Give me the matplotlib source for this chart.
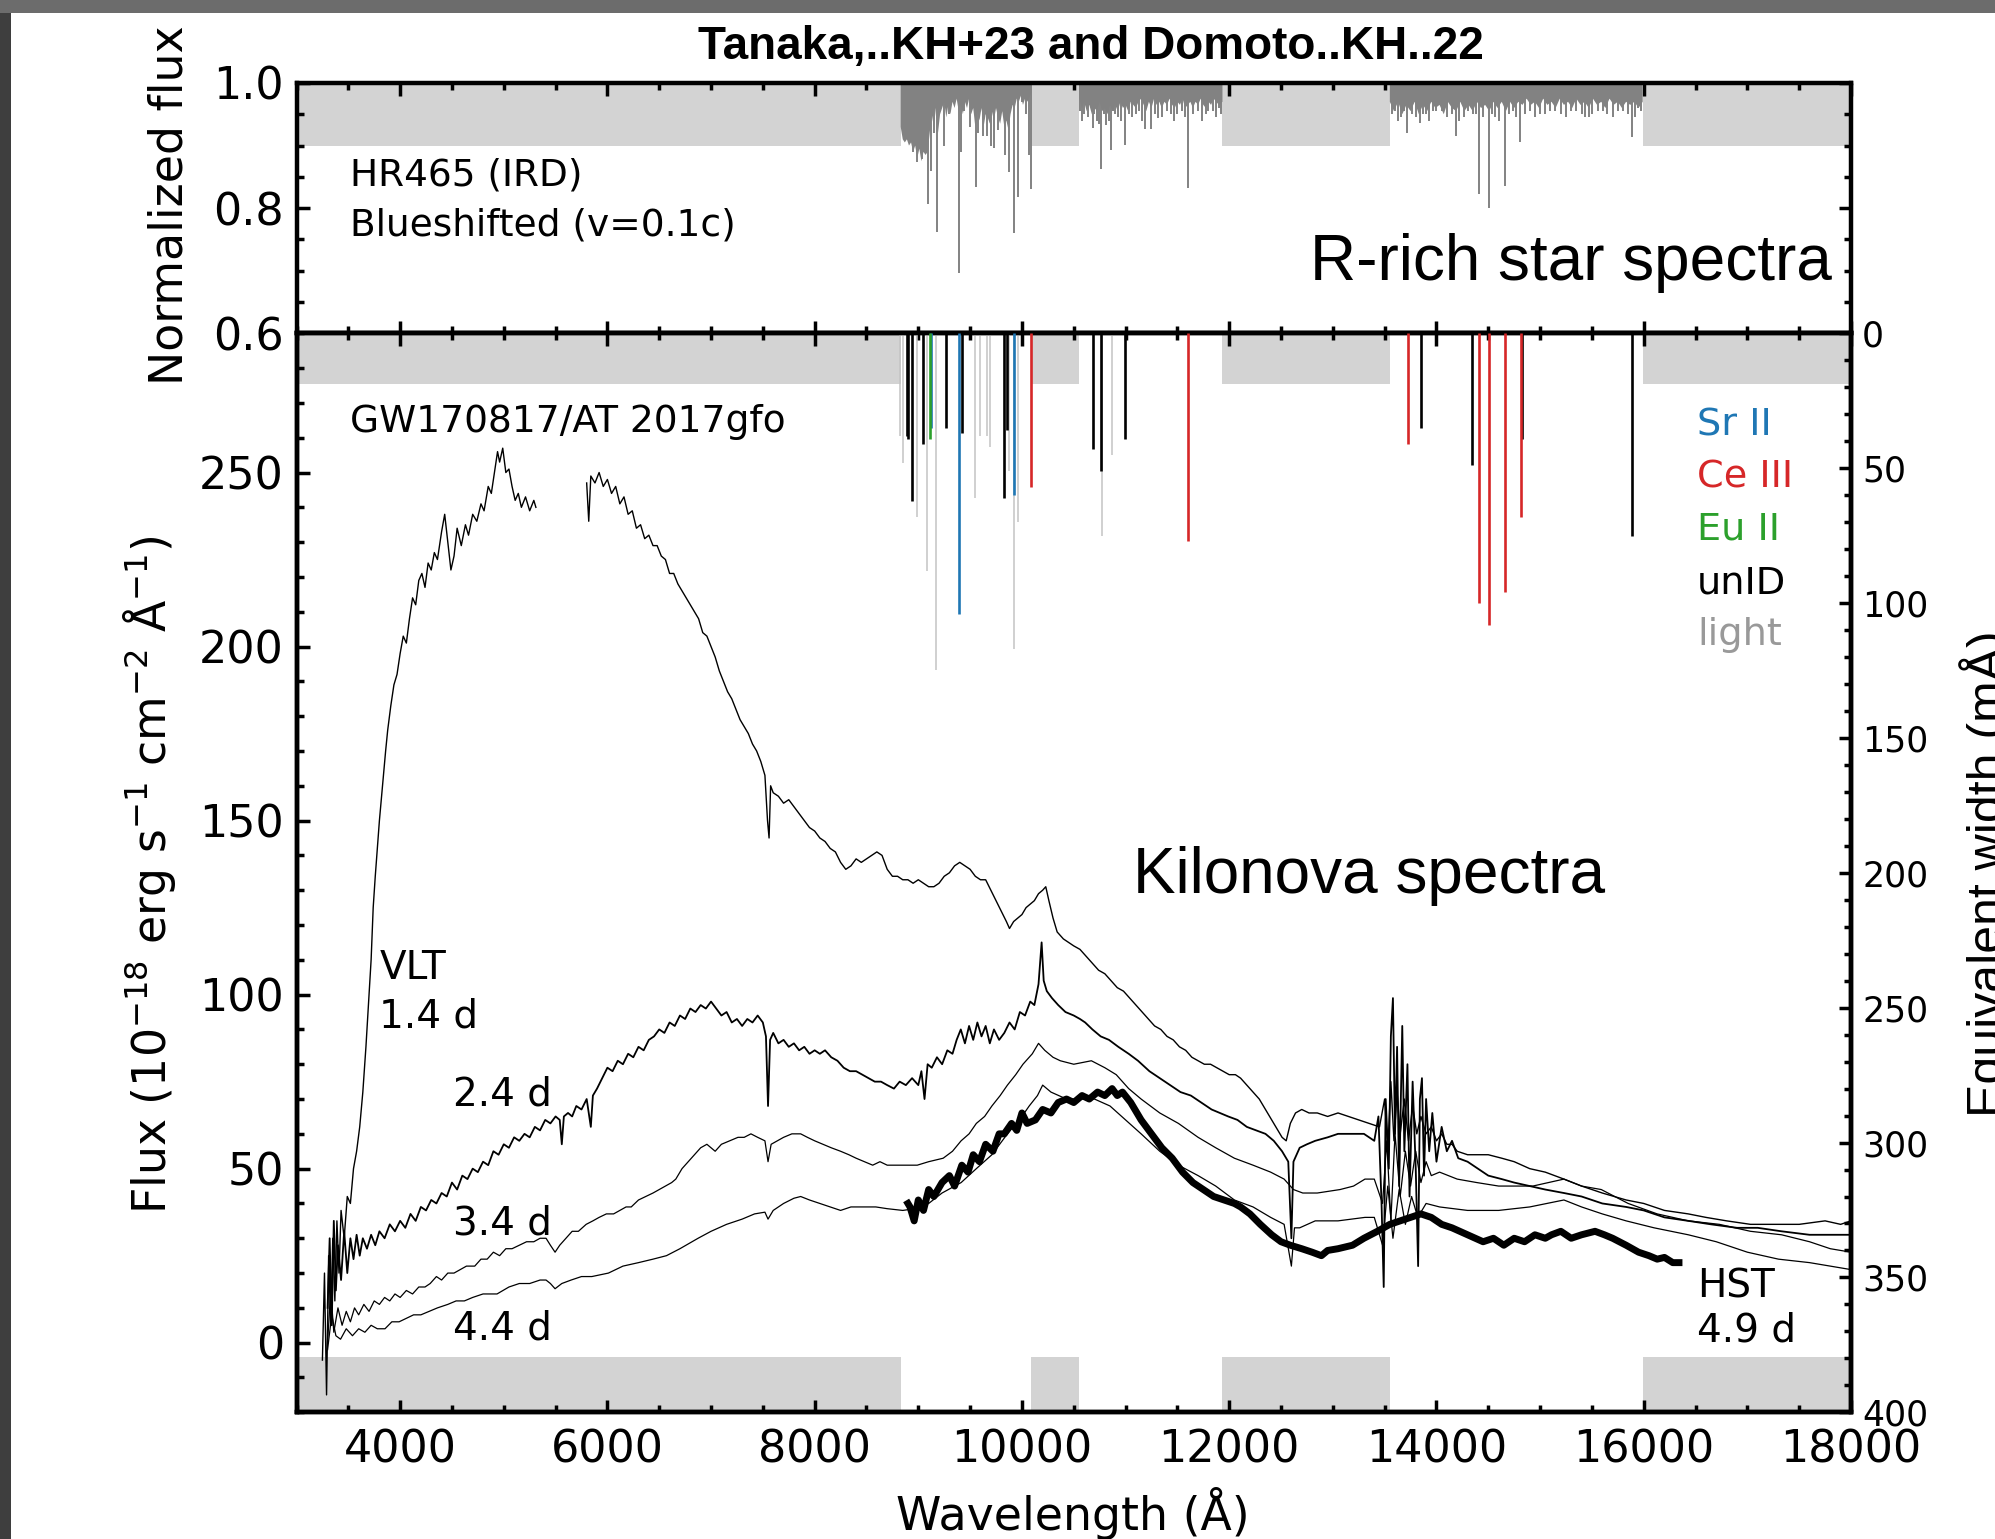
import numpy as np
import matplotlib
matplotlib.use('Agg')
import matplotlib.pyplot as plt
from matplotlib.patches import Rectangle
from matplotlib.ticker import MultipleLocator, FixedLocator

nan = np.nan

# ---------------- data ----------------
# masked wavelength ranges (light grey bands)
band_lo = [3000, 10090, 11935, 15990]
band_hi = [8830, 10553, 13550, 18000]

# R-rich star (HR465) dense absorption envelope: (wavelength, normalized flux)
star_env = [
    (8830, 0.93), (8850, 0.91), (8870, 0.905), (8890, 0.91), (8910, 0.90), (8930, 0.905),
    (8950, 0.89), (8970, 0.90), (8990, 0.88), (9010, 0.895), (9030, 0.875), (9050, 0.89),
    (9070, 0.885), (9090, 0.89), (9110, 0.92), (9130, 0.95), (9150, 0.93), (9170, 0.96),
    (9190, 0.92), (9210, 0.95), (9230, 0.96), (9250, 0.97), (9270, 0.945), (9290, 0.965),
    (9310, 0.95), (9330, 0.97), (9350, 0.96), (9370, 0.975), (9390, 0.955), (9410, 0.965),
    (9430, 0.95), (9450, 0.97), (9470, 0.96), (9490, 0.975), (9510, 0.95), (9530, 0.96),
    (9550, 0.93), (9570, 0.955), (9590, 0.94), (9610, 0.96), (9630, 0.93), (9650, 0.95),
    (9670, 0.945), (9690, 0.935), (9710, 0.955), (9730, 0.94), (9750, 0.96), (9770, 0.945),
    (9790, 0.935), (9810, 0.955), (9830, 0.93), (9850, 0.94), (9870, 0.925), (9890, 0.95),
    (9910, 0.965), (9930, 0.96), (9950, 0.975), (9970, 0.97), (9990, 0.98), (10010, 0.965),
    (10030, 0.975), (10050, 0.97), (10070, 0.975), (10090, 0.985),
    (10091, nan),
    (10553, 0.975), (10580, 0.96), (10600, 0.97), (10625, 0.955), (10650, 0.965), (10675, 0.95),
    (10700, 0.96), (10725, 0.955), (10750, 0.97), (10775, 0.955), (10800, 0.96), (10825, 0.95),
    (10850, 0.965), (10875, 0.955), (10900, 0.965), (10925, 0.955), (10950, 0.97), (10975, 0.96),
    (11000, 0.965), (11025, 0.955), (11050, 0.97), (11075, 0.965), (11100, 0.96), (11125, 0.97),
    (11150, 0.975), (11175, 0.965), (11200, 0.955), (11225, 0.97), (11250, 0.96), (11275, 0.975),
    (11300, 0.965), (11325, 0.97), (11350, 0.96), (11375, 0.97), (11400, 0.965), (11425, 0.975),
    (11450, 0.965), (11475, 0.96), (11500, 0.97), (11525, 0.965), (11550, 0.975), (11575, 0.96),
    (11600, 0.965), (11625, 0.97), (11650, 0.96), (11675, 0.97), (11700, 0.965), (11725, 0.975),
    (11750, 0.965), (11775, 0.96), (11800, 0.97), (11825, 0.965), (11850, 0.975), (11875, 0.97),
    (11900, 0.965), (11935, 0.97),
    (11936, nan),
    (13550, 0.97), (13590, 0.955), (13630, 0.97), (13670, 0.95), (13710, 0.965), (13750, 0.955),
    (13790, 0.97), (13830, 0.95), (13870, 0.965), (13910, 0.955), (13950, 0.97), (13990, 0.96),
    (14030, 0.965), (14070, 0.95), (14110, 0.97), (14150, 0.96), (14190, 0.955), (14230, 0.97),
    (14270, 0.955), (14310, 0.965), (14350, 0.955), (14390, 0.97), (14430, 0.96), (14470, 0.965),
    (14510, 0.955), (14550, 0.97), (14590, 0.96), (14630, 0.97), (14670, 0.955), (14710, 0.97),
    (14750, 0.96), (14790, 0.97), (14830, 0.965), (14870, 0.975), (14910, 0.965), (14950, 0.97),
    (14990, 0.96), (15030, 0.975), (15070, 0.965), (15110, 0.97), (15150, 0.96), (15190, 0.975),
    (15230, 0.965), (15270, 0.97), (15310, 0.96), (15350, 0.975), (15390, 0.965), (15430, 0.97),
    (15470, 0.96), (15510, 0.975), (15550, 0.965), (15590, 0.97), (15630, 0.96), (15670, 0.975),
    (15710, 0.965), (15750, 0.97), (15790, 0.96), (15830, 0.97), (15870, 0.965), (15910, 0.97),
    (15950, 0.96), (15990, 0.97),
]
# individual stellar lines: (wavelength, normalized flux at line core)
star_lines = [
    (8952, 0.89), (8991, 0.874), (9033, 0.878), (9091, 0.807), (9120, 0.86), (9150, 0.92),
    (9178, 0.762), (9251, 0.90), (9300, 0.95), (9393, 0.696), (9412, 0.89), (9440, 0.955),
    (9500, 0.93), (9554, 0.834), (9580, 0.92), (9620, 0.915), (9660, 0.915), (9700, 0.90),
    (9734, 0.896), (9770, 0.925), (9837, 0.885), (9876, 0.857), (9927, 0.760), (9960, 0.818),
    (10000, 0.97), (10040, 0.95), (10072, 0.885), (10088, 0.831),
    (10560, 0.955), (10580, 0.94), (10600, 0.95), (10640, 0.945), (10682, 0.928), (10700, 0.95),
    (10720, 0.94), (10740, 0.935), (10762, 0.863), (10790, 0.95), (10809, 0.933), (10840, 0.94),
    (10863, 0.893), (10880, 0.955), (10900, 0.95), (10930, 0.945), (10960, 0.94), (10990, 0.901),
    (11030, 0.95), (11060, 0.945), (11100, 0.95), (11130, 0.955), (11160, 0.94), (11190, 0.926),
    (11245, 0.926), (11280, 0.95), (11317, 0.944), (11350, 0.945), (11400, 0.955), (11440, 0.95),
    (11470, 0.94), (11500, 0.95), (11540, 0.955), (11570, 0.945), (11600, 0.833), (11650, 0.95),
    (11700, 0.955), (11742, 0.94), (11780, 0.95), (11800, 0.955), (11840, 0.955), (11870, 0.945),
    (11898, 0.96), (11920, 0.95),
    (13570, 0.95), (13600, 0.955), (13630, 0.94), (13658, 0.946), (13690, 0.955), (13720, 0.92),
    (13760, 0.95), (13800, 0.945), (13840, 0.936), (13870, 0.95), (13900, 0.95), (13930, 0.94),
    (13967, 0.955), (14000, 0.955), (14050, 0.955), (14100, 0.945), (14150, 0.95), (14185, 0.915),
    (14220, 0.94), (14268, 0.945), (14300, 0.955), (14350, 0.95), (14380, 0.95), (14410, 0.822),
    (14450, 0.945), (14504, 0.801), (14540, 0.95), (14566, 0.946), (14600, 0.94), (14664, 0.835),
    (14700, 0.95), (14740, 0.955), (14770, 0.945), (14805, 0.906), (14850, 0.95), (14900, 0.955),
    (14950, 0.945), (15001, 0.95), (15050, 0.95), (15100, 0.955), (15147, 0.955), (15200, 0.95),
    (15250, 0.945), (15300, 0.955), (15350, 0.955), (15400, 0.95), (15437, 0.945), (15470, 0.945),
    (15500, 0.95), (15560, 0.955), (15611, 0.955), (15650, 0.95), (15700, 0.945), (15750, 0.955),
    (15800, 0.955), (15850, 0.95), (15883, 0.913), (15920, 0.945), (15945, 0.96), (15970, 0.955),
]

# equivalent widths of identified lines (wavelength [A], EW [mA])
sr2_wl = [9126, 9393, 9927]
sr2_ew = [35, 104, 60]
ce3_wl = [10085, 11598, 13726, 14410, 14508, 14664, 14812]
ce3_ew = [57, 77, 41, 100, 108, 96, 68]
eu2_wl = [9113]
eu2_ew = [39]
unid_wl = [8895, 8904, 8936, 9048, 9268, 9425, 9831, 9860, 10688, 10759, 10992, 13847, 14340, 14826, 15890]
unid_ew = [38, 39, 62, 41, 35, 37, 61, 36, 43, 51, 39, 35, 49, 39, 75]
light_wl = [8824, 8850, 8991, 9087, 9171, 9548, 9596, 9660, 9693, 9879, 9927, 9959, 10773, 10865]
light_ew = [38, 48, 68, 88, 125, 61, 38, 38, 42, 51, 117, 70, 75, 45]

# kilonova spectra: (wavelength [A], flux [1e-18 erg/s/cm2/A])
kn_14d = [
    (3250, -5), (3270, 20), (3290, -15), (3310, 25), (3330, 5), (3350, 30), (3370, 12), (3390, 35),
    (3410, 20), (3430, 38), (3460, 30), (3490, 42), (3520, 40), (3550, 50), (3580, 55), (3610, 62),
    (3640, 72), (3670, 85), (3700, 100), (3720, 110), (3740, 125), (3760, 134), (3780, 142),
    (3800, 150), (3830, 160), (3860, 170), (3880, 176), (3910, 183), (3940, 189), (3970, 192),
    (4000, 198), (4030, 203), (4060, 201), (4090, 208), (4120, 214), (4150, 212), (4180, 219),
    (4210, 221), (4240, 217), (4270, 224), (4300, 222), (4330, 227), (4360, 225), (4400, 233),
    (4430, 238), (4460, 230), (4490, 222), (4520, 226), (4550, 234), (4590, 229), (4630, 235),
    (4660, 232), (4700, 238), (4740, 236), (4780, 241), (4810, 239), (4850, 246), (4880, 244),
    (4910, 250), (4940, 256), (4960, 253), (4990, 257), (5020, 250), (5050, 251), (5080, 246),
    (5110, 242), (5140, 244), (5170, 240), (5210, 243), (5250, 239), (5290, 242), (5310, 240),
    (5500, nan),
    (5800, 247), (5820, 236), (5840, 249), (5880, 247), (5920, 250), (5960, 246), (6000, 248),
    (6040, 244), (6080, 246), (6120, 241), (6160, 243), (6200, 238), (6240, 239), (6280, 234),
    (6320, 235), (6360, 231), (6400, 232), (6440, 229), (6480, 229), (6520, 226), (6560, 225),
    (6600, 221), (6640, 221), (6680, 218), (6720, 216), (6760, 214), (6800, 212), (6840, 210),
    (6880, 208), (6920, 204), (6960, 203), (7000, 200), (7040, 197), (7080, 193), (7120, 190),
    (7160, 187), (7200, 185), (7240, 182), (7280, 179), (7320, 177), (7360, 175), (7400, 172),
    (7440, 170), (7480, 167), (7520, 163), (7545, 150), (7560, 145), (7575, 160), (7600, 158),
    (7650, 157), (7700, 155), (7750, 156), (7800, 154), (7850, 152), (7900, 150), (7950, 148),
    (8000, 147), (8050, 145), (8100, 144), (8150, 142), (8200, 141), (8250, 138), (8300, 136),
    (8350, 137), (8400, 139), (8450, 138), (8500, 139), (8550, 140), (8600, 141), (8650, 140),
    (8700, 136), (8750, 134), (8800, 134), (8850, 133), (8900, 133), (8950, 132), (9000, 133),
    (9050, 132), (9100, 131), (9150, 131), (9200, 132), (9250, 134), (9300, 135), (9350, 137),
    (9400, 138), (9450, 137), (9500, 136), (9550, 134), (9600, 133), (9650, 133), (9700, 130),
    (9750, 127), (9800, 124), (9850, 121), (9880, 119), (9920, 121), (9960, 122), (10000, 123),
    (10040, 125), (10080, 126), (10120, 127), (10160, 129), (10200, 130), (10230, 131),
    (10260, 127), (10300, 122), (10340, 118), (10400, 116), (10450, 115), (10500, 114),
    (10560, 113), (10620, 111), (10680, 109), (10740, 107), (10800, 106), (10860, 104),
    (10920, 102), (10980, 101), (11040, 99), (11100, 97), (11160, 95), (11220, 93), (11280, 91),
    (11340, 90), (11400, 88), (11460, 87), (11520, 85), (11580, 84), (11640, 82), (11700, 81),
    (11760, 80), (11820, 80), (11880, 79), (11940, 78), (12000, 77), (12060, 77), (12110, 76),
    (12170, 74), (12230, 72), (12290, 70), (12350, 67), (12410, 64), (12470, 61), (12510, 59),
    (12550, 58), (12590, 63), (12640, 66), (12700, 67), (12770, 66), (12850, 66), (12950, 65),
    (13050, 66), (13150, 65), (13250, 64), (13350, 63), (13450, 62), (13500, 70), (13530, 55),
    (13560, 75), (13590, 58), (13620, 72), (13650, 60), (13690, 70), (13730, 58), (13770, 68),
    (13810, 60), (13850, 65), (13900, 60), (13950, 62), (14000, 58), (14050, 60), (14100, 57),
    (14150, 57), (14200, 55), (14300, 54), (14400, 54), (14500, 54), (14630, 53), (14750, 52),
    (14900, 50), (15050, 49), (15230, 47), (15400, 45), (15600, 43), (15830, 41), (16000, 40),
    (16200, 38), (16430, 37), (16600, 36), (16800, 35), (17030, 34), (17250, 34), (17500, 34),
    (17750, 35), (17900, 34), (18000, 35),
]
kn_24d = [
    (3300, 10), (3320, 30), (3340, 5), (3360, 35), (3380, 15), (3400, 28), (3430, 18), (3460, 32),
    (3490, 20), (3520, 30), (3550, 24), (3580, 31), (3610, 25), (3640, 30), (3680, 27), (3720, 31),
    (3760, 28), (3800, 32), (3850, 30), (3900, 34), (3950, 32), (4000, 35), (4050, 33), (4100, 37),
    (4150, 35), (4200, 39), (4250, 38), (4300, 41), (4350, 40), (4400, 43), (4450, 42), (4500, 46),
    (4550, 44), (4600, 48), (4650, 47), (4700, 50), (4750, 49), (4800, 52), (4850, 51), (4900, 55),
    (4950, 54), (5000, 57), (5050, 56), (5100, 59), (5150, 58), (5200, 60), (5250, 59), (5300, 62),
    (5350, 61), (5400, 64), (5450, 63), (5500, 65), (5540, 64), (5560, 57), (5580, 65), (5620, 66),
    (5660, 65), (5700, 68), (5750, 67), (5800, 70), (5840, 62), (5860, 71), (5900, 73), (5950, 76),
    (6000, 79), (6050, 78), (6100, 81), (6150, 80), (6200, 83), (6250, 82), (6300, 85), (6350, 84),
    (6400, 87), (6450, 88), (6500, 90), (6550, 89), (6600, 92), (6650, 91), (6700, 94), (6750, 93),
    (6800, 96), (6850, 95), (6900, 97), (6950, 96), (7000, 98), (7050, 96), (7100, 94), (7150, 95),
    (7200, 92), (7250, 93), (7300, 91), (7350, 93), (7400, 92), (7450, 94), (7500, 92), (7530, 88),
    (7550, 68), (7570, 87), (7600, 89), (7650, 86), (7700, 87), (7750, 85), (7800, 86), (7850, 84),
    (7900, 85), (7950, 83), (8000, 84), (8050, 83), (8100, 84), (8160, 82), (8220, 81), (8280, 79),
    (8340, 78), (8400, 78), (8460, 77), (8520, 76), (8580, 75), (8640, 75), (8700, 74), (8765, 73),
    (8820, 75), (8880, 74), (8940, 76), (9000, 74), (9030, 78), (9060, 70), (9090, 80), (9130, 79),
    (9180, 82), (9230, 80), (9280, 84), (9330, 83), (9370, 87), (9410, 90), (9450, 86), (9490, 91),
    (9530, 87), (9570, 92), (9610, 88), (9650, 91), (9690, 86), (9730, 90), (9780, 87), (9830, 89),
    (9880, 92), (9930, 90), (9980, 95), (10030, 94), (10080, 98), (10120, 97), (10160, 103),
    (10190, 115), (10210, 104), (10240, 101), (10290, 99), (10350, 97), (10420, 95), (10500, 94),
    (10560, 93), (10610, 92), (10680, 90), (10760, 88), (10840, 87), (10930, 85), (11030, 83),
    (11120, 81), (11230, 78), (11330, 76), (11430, 74), (11530, 72), (11630, 71), (11730, 69),
    (11830, 67), (11910, 66), (11990, 65), (12080, 64), (12170, 62), (12260, 61), (12350, 60),
    (12430, 58), (12510, 55), (12570, 52), (12600, 30), (12620, 52), (12680, 56), (12750, 57),
    (12830, 58), (12950, 59), (13050, 60), (13190, 60), (13300, 60), (13400, 58), (13440, 65),
    (13470, 40), (13491, 16), (13510, 70), (13540, 50), (13560, 88), (13580, 99), (13600, 60),
    (13620, 85), (13640, 45), (13670, 91), (13690, 55), (13720, 80), (13740, 42), (13770, 75),
    (13800, 50), (13823, 22), (13840, 70), (13860, 76), (13880, 48), (13900, 70), (13930, 55),
    (13960, 66), (14000, 52), (14050, 62), (14100, 55), (14150, 58), (14210, 53), (14300, 52),
    (14400, 50), (14500, 48), (14630, 47), (14750, 46), (14900, 45), (15050, 44), (15230, 43),
    (15400, 42), (15600, 40), (15830, 39), (16000, 38), (16200, 36), (16430, 35), (16650, 34),
    (16900, 33), (17100, 33), (17330, 32), (17600, 31), (17800, 31), (18000, 31),
]
kn_34d = [
    (3300, 0), (3330, 15), (3360, 3), (3400, 10), (3440, 5), (3480, 9), (3520, 6), (3560, 10),
    (3600, 8), (3650, 11), (3700, 9), (3750, 12), (3800, 11), (3850, 13), (3900, 12), (3950, 14),
    (4000, 13), (4060, 15), (4120, 14), (4180, 16), (4240, 16), (4290, 17), (4350, 19), (4400, 18),
    (4460, 20), (4520, 20), (4580, 21), (4640, 22), (4720, 22), (4780, 24), (4840, 24), (4900, 26),
    (4960, 25), (5020, 27), (5080, 27), (5150, 28), (5220, 29), (5290, 29), (5350, 30), (5408, 30),
    (5450, 28), (5495, 26), (5540, 28), (5600, 30), (5660, 32), (5720, 32), (5795, 34), (5860, 35),
    (5920, 36), (5990, 37), (6060, 37), (6120, 38), (6180, 39), (6230, 39), (6300, 41), (6370, 42),
    (6440, 43), (6500, 44), (6560, 45), (6620, 46), (6660, 47), (6720, 50), (6780, 52), (6840, 54),
    (6900, 56), (6960, 57), (7000, 56), (7040, 55), (7100, 57), (7180, 58), (7260, 59), (7320, 59),
    (7385, 60), (7450, 59), (7520, 58), (7550, 52), (7580, 57), (7640, 58), (7700, 59), (7780, 60),
    (7865, 60), (7930, 59), (8000, 58), (8080, 57), (8160, 56), (8250, 55), (8330, 54), (8400, 53),
    (8480, 52), (8560, 51), (8630, 52), (8700, 51), (8780, 51), (8850, 51), (8990, 51), (9100, 52),
    (9240, 53), (9330, 55), (9413, 58), (9490, 60), (9560, 63), (9640, 65), (9710, 68), (9790, 71),
    (9860, 74), (9940, 77), (10010, 80), (10100, 83), (10160, 86), (10220, 84), (10300, 82),
    (10370, 81), (10500, 80), (10670, 81), (10800, 79), (10910, 77), (11030, 73), (11150, 70),
    (11330, 66), (11510, 63), (11700, 59), (11870, 56), (12050, 53), (12230, 51), (12400, 49),
    (12530, 47), (12620, 44), (12710, 43), (12850, 43), (13070, 44), (13200, 45), (13310, 47),
    (13400, 47), (13480, 40), (13520, 58), (13560, 35), (13600, 60), (13650, 42), (13700, 55),
    (13750, 45), (13800, 55), (13850, 46), (13900, 52), (13950, 48), (14030, 49), (14200, 47),
    (14390, 46), (14600, 45), (14930, 45), (15230, 47), (15400, 45), (15590, 44), (15850, 40),
    (16130, 37), (16430, 35), (16730, 34), (17030, 32), (17330, 31), (17600, 29), (17800, 27),
    (18000, 26),
]
kn_44d = [
    (3300, -2), (3340, 8), (3380, 2), (3425, 1), (3480, 4), (3540, 2), (3600, 4), (3660, 3),
    (3720, 5), (3780, 4), (3854, 4), (3920, 6), (3990, 6), (4060, 7), (4130, 8), (4200, 8),
    (4280, 9), (4360, 10), (4460, 11), (4540, 12), (4620, 12), (4700, 13), (4800, 14), (4935, 14),
    (5050, 16), (5150, 17), (5250, 17), (5350, 18), (5408, 18), (5450, 17), (5495, 15.5),
    (5560, 17), (5650, 18), (5750, 19), (5850, 19), (6010, 20), (6150, 22), (6300, 23), (6440, 24),
    (6570, 25), (6700, 27), (6875, 30), (7000, 32), (7150, 34), (7300, 35.5), (7420, 37),
    (7520, 37.5), (7550, 35.5), (7600, 38), (7700, 40), (7800, 41.5), (7865, 42), (7950, 41),
    (8050, 40), (8150, 39), (8250, 38), (8350, 39), (8450, 39), (8590, 39), (8700, 38.5),
    (8850, 38), (8990, 38.6), (9100, 40), (9229, 43), (9413, 46), (9560, 50), (9710, 54),
    (9860, 60), (10000, 65), (10070, 68), (10150, 71), (10200, 74), (10280, 72), (10430, 70),
    (10550, 70), (10700, 70), (10850, 68), (11000, 64), (11150, 60), (11330, 55), (11510, 51),
    (11700, 48), (11870, 45), (12050, 41), (12230, 39), (12400, 36), (12530, 34), (12600, 22),
    (12630, 33), (12680, 33), (12830, 35), (13050, 35), (13310, 36), (13400, 36), (13480, 28),
    (13530, 45), (13580, 30), (13640, 44), (13700, 34), (13760, 42), (13820, 36), (13900, 40),
    (14030, 39), (14300, 38), (14600, 38), (14900, 39), (15230, 41), (15400, 39), (15600, 37),
    (15830, 35), (16100, 33), (16430, 31), (16700, 29), (17000, 26), (17300, 24), (17600, 23),
    (17800, 22), (18000, 21),
]
kn_hst = [
    (8900, 40), (8920, 39), (8960, 35), (9000, 41), (9050, 38), (9100, 44), (9150, 42), (9229, 46),
    (9300, 48), (9350, 45), (9420, 51), (9480, 49), (9530, 54), (9590, 52), (9650, 57), (9720, 55),
    (9780, 60), (9830, 60), (9900, 63), (9950, 61), (10000, 66), (10050, 63), (10130, 64),
    (10200, 67), (10280, 66), (10350, 69), (10430, 70), (10500, 69), (10580, 71), (10650, 70),
    (10730, 72), (10800, 71), (10870, 73), (10920, 71), (10970, 72), (11050, 69), (11150, 64),
    (11250, 60), (11350, 56), (11450, 53), (11550, 49), (11650, 46), (11750, 44), (11850, 42),
    (11950, 41), (12050, 40), (12110, 39), (12200, 37), (12300, 34), (12410, 31), (12500, 29),
    (12590, 28), (12700, 27), (12800, 26), (12890, 25), (12950, 26.5), (13050, 27), (13190, 28),
    (13300, 30), (13430, 32), (13550, 34), (13650, 35), (13750, 36), (13850, 37), (13950, 36),
    (14050, 34), (14150, 33), (14300, 31), (14450, 29), (14550, 30), (14650, 28), (14750, 30),
    (14850, 29), (14950, 31), (15050, 30), (15110, 31), (15200, 32), (15300, 30), (15400, 31),
    (15530, 32), (15620, 31), (15700, 30), (15830, 28), (15950, 26), (16050, 25), (16130, 24),
    (16200, 24.5), (16280, 23), (16340, 23),
]

x_ticks = [4000, 6000, 8000, 10000, 12000, 14000, 16000, 18000]
flux_ticks = [0, 50, 100, 150, 200, 250]
ew_ticks = [0, 50, 100, 150, 200, 250, 300, 350, 400]
norm_ticks = [0.6, 0.8, 1.0]

# ---------------- figure ----------------
W, H = 1995, 1539
fig = plt.figure(figsize=(W / 100, H / 100), dpi=100)
fig.patch.set_facecolor('#3e3e3e')
fig.add_artist(Rectangle((0, 1 - 13 / H), 1, 13 / H, transform=fig.transFigure,
                         facecolor='#6c6c6c', edgecolor='none', zorder=-2))
fig.add_artist(Rectangle((11 / W, 0), 1, 1 - 13 / H, transform=fig.transFigure,
                         facecolor='white', edgecolor='none', zorder=-1))

L, R = 296.5 / W, 1851 / W
ytop, ymid, ybot = 83, 333.3, 1412.3
axt = fig.add_axes([L, 1 - ymid / H, R - L, (ymid - ytop) / H])
axb = fig.add_axes([L, 1 - ybot / H, R - L, (ybot - ymid) / H])
ax2 = axb.twinx()

LIGHT = '#d3d3d3'
SPEC = '#828282'

for ax in (axt, axb, ax2):
    ax.set_xlim(3000, 18000)
    for s in ax.spines.values():
        s.set_linewidth(3.2)
    ax.xaxis.set_major_locator(FixedLocator(x_ticks))
    ax.xaxis.set_minor_locator(MultipleLocator(500))

# --- top panel ---
axt.set_ylim(0.6, 1.0)
for lo, hi in zip(band_lo, band_hi):
    axt.fill_between([lo, hi], 0.9, 1.0, color=LIGHT, lw=0, zorder=1)
env_wl = [p[0] for p in star_env]
env_fl = [p[1] for p in star_env]
axt.fill_between(env_wl, env_fl, 1.0, color=SPEC, lw=0, zorder=2)
axt.vlines([p[0] for p in star_lines], [p[1] for p in star_lines], 1.0, color=SPEC, lw=1.4, zorder=2)
axt.yaxis.set_major_locator(FixedLocator(norm_ticks))
axt.yaxis.set_minor_locator(MultipleLocator(0.05))
axt.set_yticklabels(['0.6', '0.8', '1.0'])
axt.tick_params(which='both', direction='in', top=True, right=True, bottom=True, left=True,
                labelbottom=False, width=2.5, labelsize=32, pad=9)
axt.tick_params(which='major', length=9)
axt.tick_params(which='minor', length=5)
axt.text(3517, 0.852, 'HR465 (IRD)', fontsize=27, ha='left', va='center')
axt.text(3517, 0.773, 'Blueshifted (v=0.1c)', fontsize=27, ha='left', va='center')
axt.text(17817, 0.712, 'R-rich star spectra', fontsize=46, ha='right', va='center',
         family=['Liberation Sans', 'DejaVu Sans'])

# --- bottom panel ---
axb.set_ylim(-20, 290)
for lo, hi in zip(band_lo, band_hi):
    axb.fill_between([lo, hi], -20, -4, color=LIGHT, lw=0, zorder=1)
    axb.fill_between([lo, hi], 275.5, 290, color=LIGHT, lw=0, zorder=1)
for spec, lw in ((kn_14d, 1.0), (kn_24d, 1.3), (kn_34d, 0.9), (kn_44d, 0.9), (kn_hst, 5.0)):
    axb.plot([p[0] for p in spec], [p[1] for p in spec], color='black', lw=lw, zorder=3,
             solid_joinstyle='round')
axb.yaxis.set_major_locator(FixedLocator(flux_ticks))
axb.yaxis.set_minor_locator(MultipleLocator(10))
axb.tick_params(which='both', direction='in', top=True, bottom=True, left=True, right=False,
                width=2.5, labelsize=32, pad=9)
axb.tick_params(which='major', length=9)
axb.tick_params(which='minor', length=5)
axb.tick_params(axis='x', pad=12)

ax2.set_ylim(400, 0)
ax2.yaxis.set_major_locator(FixedLocator(ew_ticks))
ax2.yaxis.set_minor_locator(MultipleLocator(10))
ax2.tick_params(which='both', direction='in', right=True, left=False, top=False, bottom=False,
                labelbottom=False, width=2.5, labelsize=25, pad=8)
ax2.tick_params(which='major', length=9)
ax2.tick_params(which='minor', length=5)
ax2.vlines(light_wl, 0, light_ew, color='#c4c4c4', lw=1.1, zorder=2)
ax2.vlines(unid_wl, 0, unid_ew, color='black', lw=1.9, zorder=3)
ax2.vlines(sr2_wl, 0, sr2_ew, color='#1f77b4', lw=1.9, zorder=3)
ax2.vlines(ce3_wl, 0, ce3_ew, color='#d62728', lw=1.9, zorder=3)
ax2.vlines(eu2_wl, 0, eu2_ew, color='#2ca02c', lw=1.9, zorder=3)

# annotations (flux coordinates)
axb.text(3517, 264.6, 'GW170817/AT 2017gfo', fontsize=27, ha='left', va='center')
axb.text(3800, 107.7, 'VLT', fontsize=28, ha='left', va='center')
axb.text(3800, 93.8, '1.4 d', fontsize=28, ha='left', va='center')
axb.text(4511, 71.2, '2.4 d', fontsize=28, ha='left', va='center')
axb.text(4511, 34.3, '3.4 d', fontsize=28, ha='left', va='center')
axb.text(4511, 4.0, '4.4 d', fontsize=28, ha='left', va='center')
axb.text(16513, 16.0, 'HST', fontsize=28, ha='left', va='center')
axb.text(16513, 3.6, '4.9 d', fontsize=28, ha='left', va='center')
axb.text(13350, 134, 'Kilonova spectra', fontsize=46, ha='center', va='center',
         family=['Liberation Sans', 'DejaVu Sans'])
for lab, col, yy in (('Sr II', '#1f77b4', 263.5), ('Ce III', '#d62728', 248.5),
                     ('Eu II', '#2ca02c', 233.6), ('unID', 'black', 218.2),
                     ('light', '#999999', 203.3)):
    axb.text(16513, yy, lab, fontsize=27.5, color=col, ha='left', va='center')

# axis labels
fig.text(170 / W, 1 - 205 / H, 'Normalized flux', rotation=90, fontsize=33, ha='center', va='center')
fig.text(150 / W, 1 - 874.6 / H, 'Flux (10$^{-18}$ erg s$^{-1}$ cm$^{-2}$ Å$^{-1}$)',
         rotation=90, fontsize=33, ha='center', va='center')
fig.text(1072.6 / W, 1 - 1514 / H, 'Wavelength (Å)', fontsize=33, ha='center', va='center')
fig.text(1959 / W, 1 - 874 / H, 'Equivalent width (mÅ)', rotation=90, fontsize=36,
         ha='left', va='center', family=['Liberation Sans Narrow', 'Liberation Sans', 'DejaVu Sans'])
fig.text(1091 / W, 1 - 47 / H, 'Tanaka,..KH+23 and Domoto..KH..22', fontsize=33,
         fontweight='bold', ha='center', va='center', family=['Liberation Sans', 'DejaVu Sans'])

fig.savefig('out.png', dpi=100, facecolor=fig.get_facecolor())
